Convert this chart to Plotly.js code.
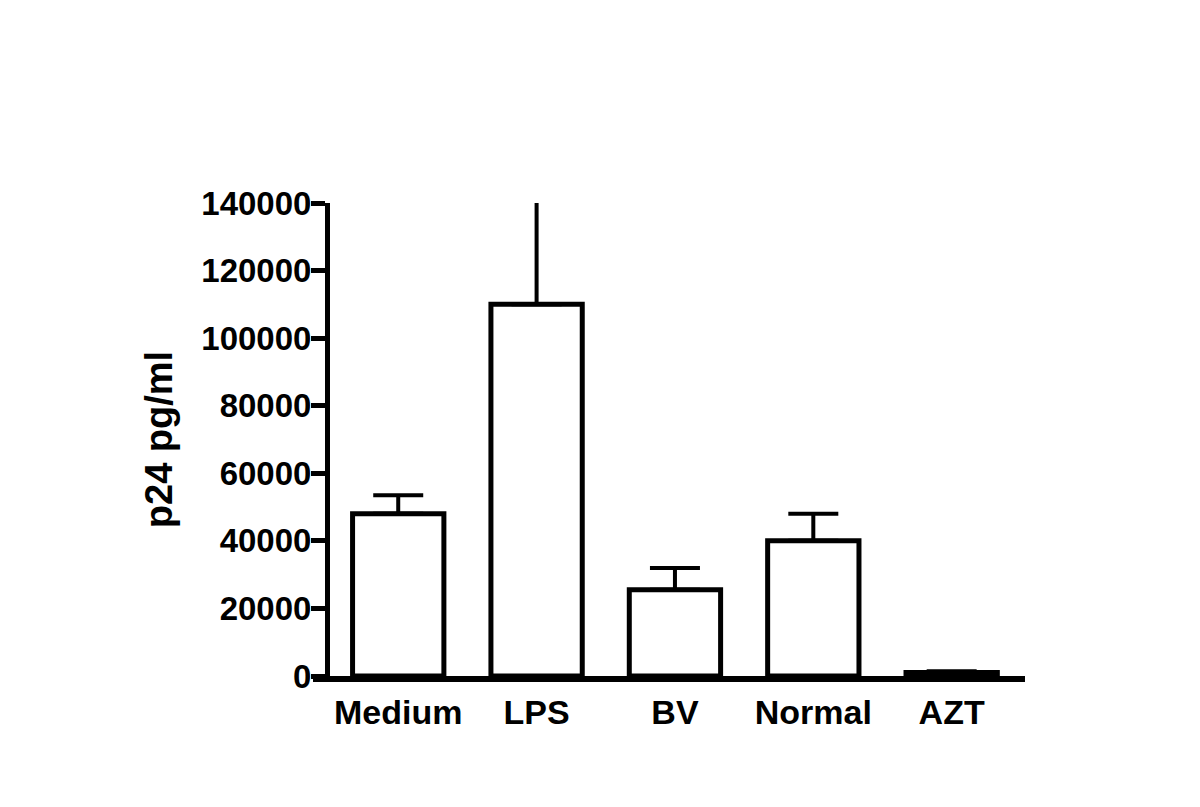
<!DOCTYPE html>
<html>
<head>
<meta charset="utf-8">
<script src="https://cdn.plot.ly/plotly-3.0.1.min.js"></script>
<style>html,body{margin:0;padding:0;background:#fff;}#chart{width:1200px;height:807px;}</style>
</head>
<body>
<div id="chart"></div>
<script>
const categories = ["Medium", "LPS", "BV", "Normal", "AZT"];
const values = [48000, 110000, 25500, 40000, 1000];
const errorsUp = [5500, 33000, 6500, 8000, 400];
const errorsDown = [0, 0, 0, 0, 0];
const yTicks = [0, 20000, 40000, 60000, 80000, 100000, 120000, 140000];

const fam = "Liberation Sans, Arial, sans-serif";

const trace = {
  type: "bar",
  x: categories,
  y: values,
  width: 0.66,
  marker: {color: "#ffffff", line: {color: "#000", width: 5}},
  error_y: {type: "data", array: errorsUp, arrayminus: errorsDown, symmetric: false, visible: true, color: "#000", thickness: 4, width: 25},
  hoverinfo: "none"
};

const layout = {
  width: 1200,
  height: 807,
  margin: {l: 313, r: 175, t: 203, b: 131},
  paper_bgcolor: "#fff",
  plot_bgcolor: "#fff",
  showlegend: false,
  font: {family: fam, size: 33, color: "#000"},
  xaxis: {
    type: "category",
    range: [-0.616, 4.53],
    showgrid: false,
    zeroline: false,
    showline: true,
    linecolor: "#000",
    linewidth: 6,
    ticks: "",
    ticklabelstandoff: 1,
    tickfont: {family: fam, size: 34, color: "#000", weight: "bold"}
  },
  yaxis: {
    range: [0, 140000],
    anchor: "free",
    position: 0.0197,
    tickvals: yTicks,
    ticktext: yTicks.map(String),
    showgrid: false,
    zeroline: false,
    showline: true,
    linecolor: "#000",
    linewidth: 5,
    ticks: "outside",
    ticklen: 14,
    tickwidth: 5,
    tickcolor: "#000",
    ticklabelstandoff: -7,
    tickfont: {family: fam, size: 33, color: "#000", weight: "bold"},
    title: {text: "p24 pg/ml", font: {family: fam, size: 38, color: "#000", weight: "bold"}, standoff: 16}
  }
};

Plotly.newPlot("chart", [trace], layout, {displayModeBar: false, staticPlot: true});
</script>
</body>
</html>
